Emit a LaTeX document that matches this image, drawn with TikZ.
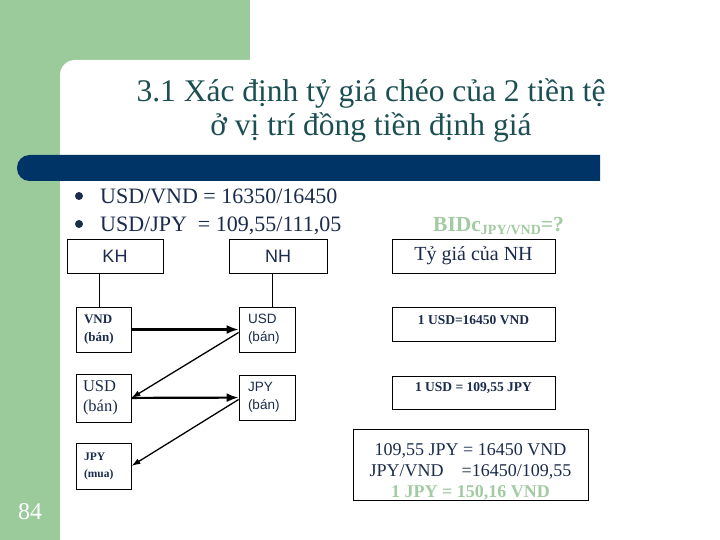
\documentclass[tikz,border=0pt]{standalone}
\usepackage{fontspec}
\setmainfont{Liberation Serif}
\newfontfamily\arialfont{Liberation Sans}
\usepackage{tikz}
\usetikzlibrary{arrows.meta,positioning,calc}
\definecolor{sldgreen}{HTML}{9BCB9B}
\definecolor{sldnavy}{HTML}{003366}
\definecolor{sldtitle}{HTML}{1C4F52}
\definecolor{sldtext}{HTML}{1A2B4C}
\definecolor{sldlight}{HTML}{A2CBA2}
\newcommand{\fs}[2]{\fontsize{#1}{#2}\selectfont}
\tikzset{
  fxbox/.style={draw=black, line width=0.8pt, inner sep=0pt, text=sldtext},
  cellbox/.style={draw=black, line width=0.8pt, inner ysep=0pt, align=left, text=sldtext},
  bulletdot/.style={circle, fill=sldtext, minimum size=8pt, inner sep=0pt},
  thickarr/.style={-{Latex[length=12pt,width=9pt]}, line width=2.2pt},
  thinarr/.style={-{Latex[length=9pt,width=6pt]}, line width=1.3pt}
}

\begin{document}
\begin{tikzpicture}[x=1pt, y=-1pt]
  \useasboundingbox (0,0) rectangle (720,540);
  % slide background
  \fill[sldgreen] (0,0) rectangle (250,80);
  \fill[sldgreen] (0,0) rectangle (60,540);
  \fill[white] (60,540) [rounded corners=15pt] -- (60,60) [sharp corners] -- (720,60) -- (720,540) -- cycle;
  \fill[sldnavy] (600,155) [rounded corners=12.5pt] -- (17,155) -- (17,181) [sharp corners] -- (600,181) -- cycle;

  \node[font=\fs{31.5}{34}, text=sldtitle, align=center] (title) at (371,110)
    {3.1 Xác định tỷ giá chéo của 2 tiền tệ\\ở vị trí đồng tiền định giá};

  % rates
  \node[bulletdot] (b1) at (79,196) {};
  \node[bulletdot] (b2) at (79,224) {};
  \node[anchor=base west, font=\fs{22}{24}, text=sldtext, inner sep=0pt] (vndrate) at (100,204) {USD/VND = 16350/16450};
  \node[anchor=base west, font=\fs{22}{24}, text=sldtext, inner sep=0pt] (jpyrate) at (100,231) {USD/JPY\ \ = 109,55/111,05};
  \node[anchor=base west, font=\fs{21.5}{24}\bfseries, text=sldlight, inner sep=0pt] (bid) at (433,232)
    {BIDc\raisebox{-3pt}{\fs{14}{14}JPY/VND}=?};

  % column heads
  \node[fxbox, minimum width=96pt, minimum height=34pt, font=\arialfont\fs{18}{20}] (kh) at (115,256) {KH};
  \node[fxbox, minimum width=98pt, minimum height=34pt, font=\arialfont\fs{18}{20}] (nh) at (278,256) {NH};
  \node[fxbox, minimum width=163pt, minimum height=34pt, font=\fs{20}{22}] (bank) at (473.5,256) {Tỷ giá của NH};

  % customer side
  \node[cellbox, inner xsep=8pt, text width=39pt, minimum height=45pt, font=\fs{13}{18}\bfseries] (vnd) at (103.5,329.5) {VND\\(bán)};
  \node[cellbox, inner xsep=7pt, text width=41pt, minimum height=48pt, font=\fs{16.5}{20}] (usdl) at (103.5,398) {USD\\(bán)};
  \node[cellbox, inner xsep=8pt, text width=39pt, minimum height=46pt, font=\fs{11.5}{17}\bfseries] (jpym) at (103.5,466) {JPY\\(mua)};

  % bank side
  \node[cellbox, inner xsep=9pt, text width=38pt, minimum height=45pt, font=\arialfont\fs{13.5}{18}] (usdr) at (267,329.5) {USD\\(bán)};
  \node[cellbox, inner xsep=9pt, text width=38pt, minimum height=45pt, font=\arialfont\fs{13.5}{18}] (jpyr) at (267,397.5) {JPY\\(bán)};

  % bank quotes
  \node[fxbox, minimum width=163pt, minimum height=34pt, text depth=8pt, font=\fs{13.5}{15}\bfseries] (q1) at (473.5,324) {1 USD=16450 VND};
  \node[fxbox, minimum width=163pt, minimum height=33pt, text depth=11pt, font=\fs{13.5}{15}\bfseries] (q2) at (473.5,392.5) {1 USD = 109,55 JPY};
  \node[fxbox, minimum width=235pt, minimum height=66pt, align=center, text height=68pt, font=\fs{18}{21}] (cross) at (470.5,465)
    {109,55 JPY = 16450 VND\\JPY/VND\hspace{18pt}=16450/109,55\\\textcolor{sldlight}{\bfseries 1 JPY = 150,16 VND}};

  \node[text=white, font=\fs{24}{24}] (pgno) at (30,512) {84};

  % connectors
  \draw[line width=0.8pt] ([xshift=-16pt]kh.south) -- ([xshift=-16pt]kh.south |- vnd.north);
  \draw[line width=0.8pt] ([xshift=-6pt]nh.south) -- ([xshift=-6pt]nh.south |- usdr.north);
  \draw[thickarr] (vnd) -- (usdr);
  \draw[thinarr] ([yshift=-3pt]usdr.west) -- (usdl.east);
  \draw[thickarr] (usdl) -- (jpyr);
  \draw[thinarr] ([yshift=-2pt]jpyr.west) -- (jpym.east);
\end{tikzpicture}
\end{document}
